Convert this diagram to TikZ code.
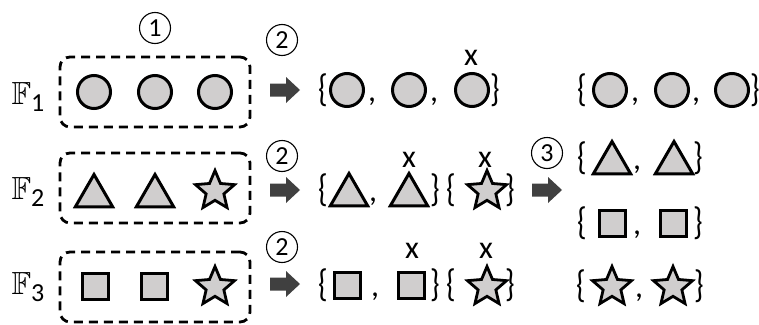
\documentclass[tikz,border=0pt]{standalone}
\usepackage{amssymb}
\usepackage{fontspec}
\setmainfont{Carlito}
\usetikzlibrary{shapes.geometric}
\definecolor{shapegray}{RGB}{208,206,206}
\definecolor{arrowgray}{RGB}{64,64,64}
\newcommand{\lbr}{\scalebox{0.95}[1.2]{\{}}
\newcommand{\rbr}{\scalebox{0.95}[1.2]{\}}}
\begin{document}
\begin{tikzpicture}[x=1pt,y=-1pt,
  shp/.style={draw=black, line width=3pt, fill=shapegray, inner sep=0pt, outer sep=0pt},
  circ/.style={shp, circle, minimum size=33pt},
  tri/.style={shp, regular polygon, regular polygon sides=3, minimum size=43pt},
  sqr/.style={shp, rectangle, minimum size=26pt},
  str/.style={shp, star, star points=5, star point ratio=2.2, minimum size=41pt, line width=2.8pt},
  txt/.style={inner sep=0pt, font=\fontsize{32}{32}\selectfont},
  num/.style={draw, circle, line width=1.1pt, minimum size=31pt, inner sep=0pt, font=\fontsize{26}{26}\selectfont},
  grp/.style={draw, line width=2.8pt, dash pattern=on 9pt off 6pt, rounded corners=10pt, minimum width=190pt, minimum height=70pt, inner sep=0pt},
  blockarrow/.style={fill=arrowgray}]
\useasboundingbox (0,0) rectangle (759,324);

% labels F
\node[inner sep=0pt] (f1) at (28,97) {\fontsize{32}{32}\selectfont$\mathbb{F}$\raisebox{-7pt}{\fontsize{26}{26}\selectfont 1}};
\node[inner sep=0pt] (f2) at (28,192) {\fontsize{32}{32}\selectfont$\mathbb{F}$\raisebox{-7pt}{\fontsize{26}{26}\selectfont 2}};
\node[inner sep=0pt] (f3) at (28,287) {\fontsize{32}{32}\selectfont$\mathbb{F}$\raisebox{-7pt}{\fontsize{26}{26}\selectfont 3}};

% groups
\node[grp] (g1) at (155,92) {};
\node[grp] (g2) at (155,188) {};
\node[grp] (g3) at (155,287) {};
\node[num] (n1) at (155,28) {1};

\node[circ] (b1a) at (94,92) {};
\node[circ] (b1b) at (155,92) {};
\node[circ] (b1c) at (215,92) {};
\node[tri] (b2a) at (94,196) {};
\node[tri] (b2b) at (155,196) {};
\node[str] (b2c) at (215,191) {};
\node[sqr] (b3a) at (95,286) {};
\node[sqr] (b3b) at (154,286) {};
\node[str] (b3c) at (215,287) {};

% step 2
\node[num] (n2a) at (282,40) {2};
\node[num] (n2b) at (282,156) {2};
\node[num] (n2c) at (282,247) {2};
\coordinate (a1) at (285,90);
\coordinate (a2) at (285,190);
\coordinate (a3) at (285,284);
\coordinate (a4) at (547,190);
\foreach \c in {a1,a2,a3,a4}
  \fill[blockarrow, shift={(\c)}] (-15,-6.5) -- (1,-6.5) -- (1,-13) -- (15,0) -- (1,13) -- (1,6.5) -- (-15,6.5) -- cycle;
\node[num] (n3) at (547,153) {3};

% middle row 1
\node[txt] (m1o) at (323,90) {\lbr};
\node[circ] (m1a) at (347,90) {};
\node[txt] (m1k1) at (372,102) {,};
\node[circ] (m1b) at (409,90) {};
\node[txt] (m1k2) at (434,102) {,};
\node[circ] (m1c) at (472,90) {};
\node[txt] (m1e) at (495,90) {\rbr};
\node[txt] (m1x) at (471,58) {x};

% middle row 2
\node[txt] (m2o) at (323,190) {\lbr};
\node[tri] (m2a) at (349,195) {};
\node[txt] (m2k) at (373,202) {,};
\node[tri] (m2b) at (409,195) {};
\node[txt] (m2e) at (435,190) {\rbr};
\node[txt] (m2o2) at (451,190) {\lbr};
\node[str] (m2s) at (487,191) {};
\node[txt] (m2e2) at (510,190) {\rbr};
\node[txt] (m2x1) at (409,160) {x};
\node[txt] (m2x2) at (485,160) {x};

% middle row 3
\node[txt] (m3o) at (323,285) {\lbr};
\node[sqr] (m3a) at (347,285) {};
\node[txt] (m3k) at (375,297) {,};
\node[sqr] (m3b) at (411,285) {};
\node[txt] (m3e) at (435,285) {\rbr};
\node[txt] (m3o2) at (451,285) {\lbr};
\node[str] (m3s) at (487,287) {};
\node[txt] (m3e2) at (510,285) {\rbr};
\node[txt] (m3x1) at (412,251) {x};
\node[txt] (m3x2) at (486,251) {x};

% right column
\node[txt] (r1o) at (582,90) {\lbr};
\node[circ] (r1a) at (610,90) {};
\node[txt] (r1k1) at (635,102) {,};
\node[circ] (r1b) at (672,90) {};
\node[txt] (r1k2) at (696,102) {,};
\node[circ] (r1c) at (732,90) {};
\node[txt] (r1e) at (755,90) {\rbr};

\node[txt] (r2o) at (582,158) {\lbr};
\node[tri] (r2a) at (612,163) {};
\node[txt] (r2k) at (637,170) {,};
\node[tri] (r2b) at (674,163) {};
\node[txt] (r2e) at (698,158) {\rbr};

\node[txt] (r3o) at (582,223) {\lbr};
\node[sqr] (r3a) at (612,223) {};
\node[txt] (r3k) at (637,235) {,};
\node[sqr] (r3b) at (673,223) {};
\node[txt] (r3e) at (698,223) {\rbr};

\node[txt] (r4o) at (581,286) {\lbr};
\node[str] (r4a) at (612,287) {};
\node[txt] (r4k) at (639,298) {,};
\node[str] (r4b) at (673,287) {};
\node[txt] (r4e) at (699,286) {\rbr};
\end{tikzpicture}
\end{document}
